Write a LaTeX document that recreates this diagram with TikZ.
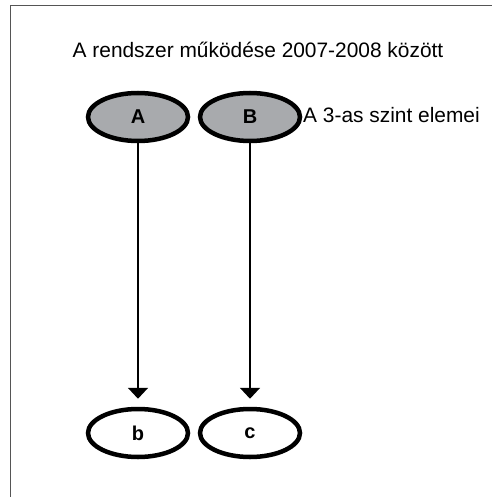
\documentclass[tikz,border=0pt]{standalone}
\usepackage{fontspec}
\setmainfont{Liberation Sans}
\usetikzlibrary{shapes.geometric,arrows.meta}
\definecolor{nodegray}{RGB}{168,170,173}
\definecolor{framegray}{RGB}{85,85,85}
\tikzset{
  elnode/.style={ellipse, draw=black, line width=4.5pt, minimum width=100pt, minimum height=48pt, inner sep=0pt,
    font=\fontsize{20}{23}\selectfont\bfseries},
  topnode/.style={elnode, fill=nodegray},
  botnode/.style={elnode, fill=white},
  txt/.style={font=\fontsize{20.9}{25}\selectfont, inner sep=0pt},
  conn/.style={line width=2pt, -{Triangle[width=20pt,length=11pt]}, shorten >=8pt}
}
\begin{document}
\begin{tikzpicture}[x=1pt,y=-1pt]
\useasboundingbox (0,0) rectangle (492,497);
\fill[white] (0,0) rectangle (492,497);
\draw[framegray, line width=1pt] (10,497) -- (10,6) -- (492,6);
\node[txt, anchor=base] (title) at (258,58) {A rendszer működése 2007-2008 között};
\node[topnode] (A) at (138,117) {A};
\node[topnode] (B) at (250,117) {B};
\node[txt, anchor=base west] (lbl) at (303,123) {A 3-as szint elemei};
\node[botnode] (b) at (138,433) {b};
\node[botnode] (c) at (250,433) {c};
\draw[conn] (A) -- (b);
\draw[conn] (B) -- (c);
\end{tikzpicture}
\end{document}
